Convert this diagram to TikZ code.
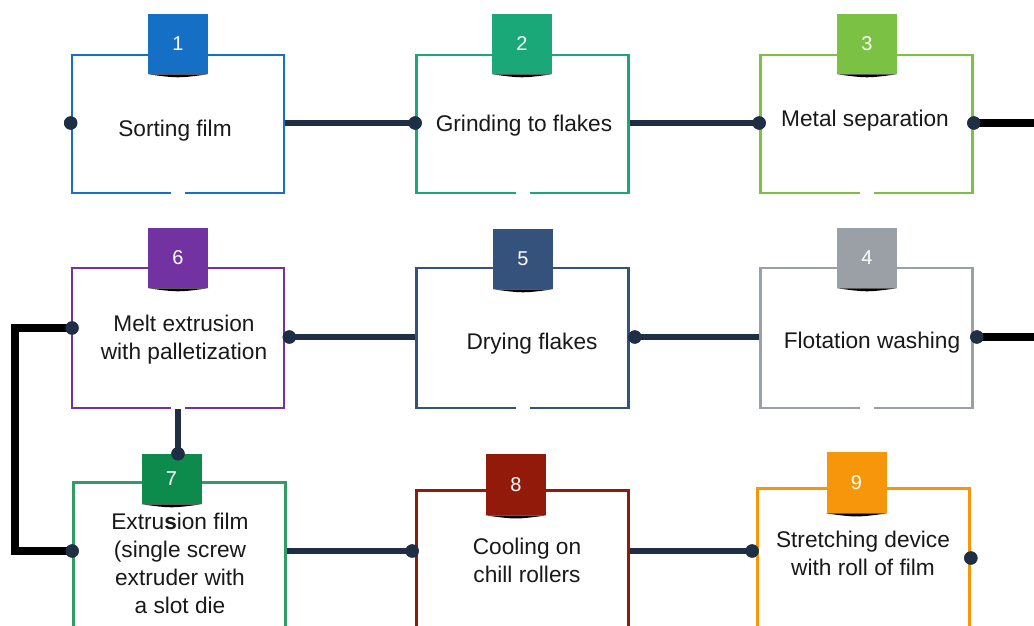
\documentclass[tikz,border=0pt]{standalone}
\usepackage{fontspec}
\setmainfont{Liberation Sans}
\usetikzlibrary{calc}
\definecolor{sblue}{HTML}{1570C5}
\definecolor{steal}{HTML}{1AA878}
\definecolor{slime}{HTML}{7BC143}
\definecolor{sgray}{HTML}{9AA0A6}
\definecolor{snavy}{HTML}{35527D}
\definecolor{spurple}{HTML}{7232A1}
\definecolor{sgreen}{HTML}{0D8B4C}
\definecolor{sred}{HTML}{921A0B}
\definecolor{sorange}{HTML}{F7960A}
\definecolor{lnavy}{HTML}{1E2F45}
\tikzset{
  % white stage box with coloured frame
  stage/.style = {rectangle, draw=#1, line width=2pt, fill=white,
                  minimum width=159pt, inner sep=0pt},
  tab/.style   = {rectangle, fill=#1, minimum width=45pt, minimum height=45pt,
                  inner sep=0pt, text=white, font=\fontsize{15}{18}\selectfont},
  txt/.style   = {align=center, text=black!90, font=\fontsize{17}{21}\selectfont},
  link/.style  = {line width=4.5pt, lnavy},
  back/.style  = {line width=5.5pt, black},
  dot/.style   = {circle, fill=lnavy, inner sep=0pt, minimum size=10pt},
}

\begin{document}
\begin{tikzpicture}[x=0.75pt,y=-0.75pt]
\clip (0,0) rectangle (1034,625);
% rows of connectors
\coordinate (r1) at (0,123);
\coordinate (r2) at (0,337);
\coordinate (r3) at (0,551);
\coordinate (loop) at (15,0);
\coordinate (out) at (1045,0);
% boxes
\node[stage=sblue,   minimum height=103.5pt] (b1) at (178,124) {};
\node[stage=steal,   minimum height=103.5pt] (b2) at (522.5,124) {};
\node[stage=slime,   minimum height=103.5pt] (b3) at (866.5,124) {};
\node[stage=sgray,   minimum height=105pt]   (b4) at (866.5,338) {};
\node[stage=snavy,   minimum height=105pt]   (b5) at (522.5,338) {};
\node[stage=spurple, minimum height=105pt]   (b6) at (178,338) {};
\node[stage=sgreen!85!white, minimum height=108.5pt] (b7) at (179.5,554.5) {};
\node[stage=sred,    minimum height=102.5pt] (b8) at (522.5,558.5) {};
\node[stage=sorange, minimum height=104pt]   (b9) at (863.5,557.5) {};
% gaps in the bottom edges
\foreach \i in {1,...,9}
  \fill[white] ($(b\i.south)+(-7,-3)$) rectangle ($(b\i.south)+(7,3)$);
% number tabs
\node[tab=sblue]   (t1) at (178,44) {1};
\node[tab=steal]   (t2) at (522,44) {2};
\node[tab=slime]   (t3) at (867,44) {3};
\node[tab=sgray]   (t4) at (867,258) {4};
\node[tab=snavy]   (t5) at (523,259) {5};
\node[tab=spurple] (t6) at (178,258) {6};
\node[tab=sgreen, minimum height=37.5pt] (t7) at (171.5,479) {7};
\node[tab=sred,   minimum height=46pt]   (t8) at (516,484.5) {8};
\node[tab=sorange, minimum height=46pt]  (t9) at (856.5,482.5) {9};
\foreach \i in {1,...,9}
  \fill[black] (t\i.south west) .. controls ($(t\i.south)+(0,4)$) .. (t\i.south east) -- cycle;
% labels
\node[txt] (l1) at (175,131) {Sorting film};
\node[txt] (l2) at (524,126) {Grinding to flakes};
\node[txt] (l3) at (865,121) {Metal separation};
\node[txt] (l4) at (872,343) {Flotation washing};
\node[txt] (l5) at (532,344) {Drying flakes};
\node[txt] (l6) at (184,340) {Melt extrusion\\with palletization};
\node[txt] (l7) at (180,563) {Extru\textbf{s}ion film\\(single screw\\extruder with\\a slot die};
\node[txt] (l8) at (527,560) {Cooling on\\chill rollers};
\node[txt] (l9) at (863,553) {Stretching device\\with roll of film};
% dots
\node[dot] (d1l) at (b1.west |- r1) {};
\node[dot] (d2l) at (b2.west |- r1) {};
\node[dot] (d3l) at (b3.west |- r1) {};
\node[dot] (d3r) at (b3.east |- r1) {};
\node[dot] (d4r) at ($(b4.east |- r2)+(3,0)$) {};
\node[dot] (d5r) at ($(b5.east |- r2)+(5,0)$) {};
\node[dot] (d6r) at ($(b6.east |- r2)+(4,0)$) {};
\node[dot] (d6l) at (72,328) {};
\node[dot] (d7t) at (b6.south |- t7.north) {};
\node[dot] (d7l) at (b7.west |- r3) {};
\node[dot] (d8l) at ($(b8.west |- r3)+(-3,0)$) {};
\node[dot] (d9l) at ($(b9.west |- r3)+(-4,0)$) {};
\node[dot] (d9r) at (b9.east |- 0,558) {};
% connectors
\draw[link] (b1.east |- r1) -- (d2l.center);
\draw[link] (b2.east |- r1) -- (d3l.center);
\draw[back] (d3r.center) -- (d3r -| out);
\draw[back] (d4r.center) -- (d4r -| out);
\draw[link] (b4.west |- r2) -- (d5r.center);
\draw[link] (b5.west |- r2) -- (d6r.center);
\draw[link] (b6.south) -- (d7t.center);
\draw[back] (d6l.center) -- (d6l -| loop) -- (d7l -| loop) -- (d7l.center);
\draw[link] (b7.east |- r3) -- (d8l.center);
\draw[link] (b8.east |- r3) -- (d9l.center);
% dots again on top of lines
\foreach \d in {d1l,d2l,d3l,d3r,d4r,d5r,d6r,d6l,d7t,d7l,d8l,d9l,d9r}
  \fill[lnavy] (\d) circle (5pt);
\end{tikzpicture}
\end{document}
